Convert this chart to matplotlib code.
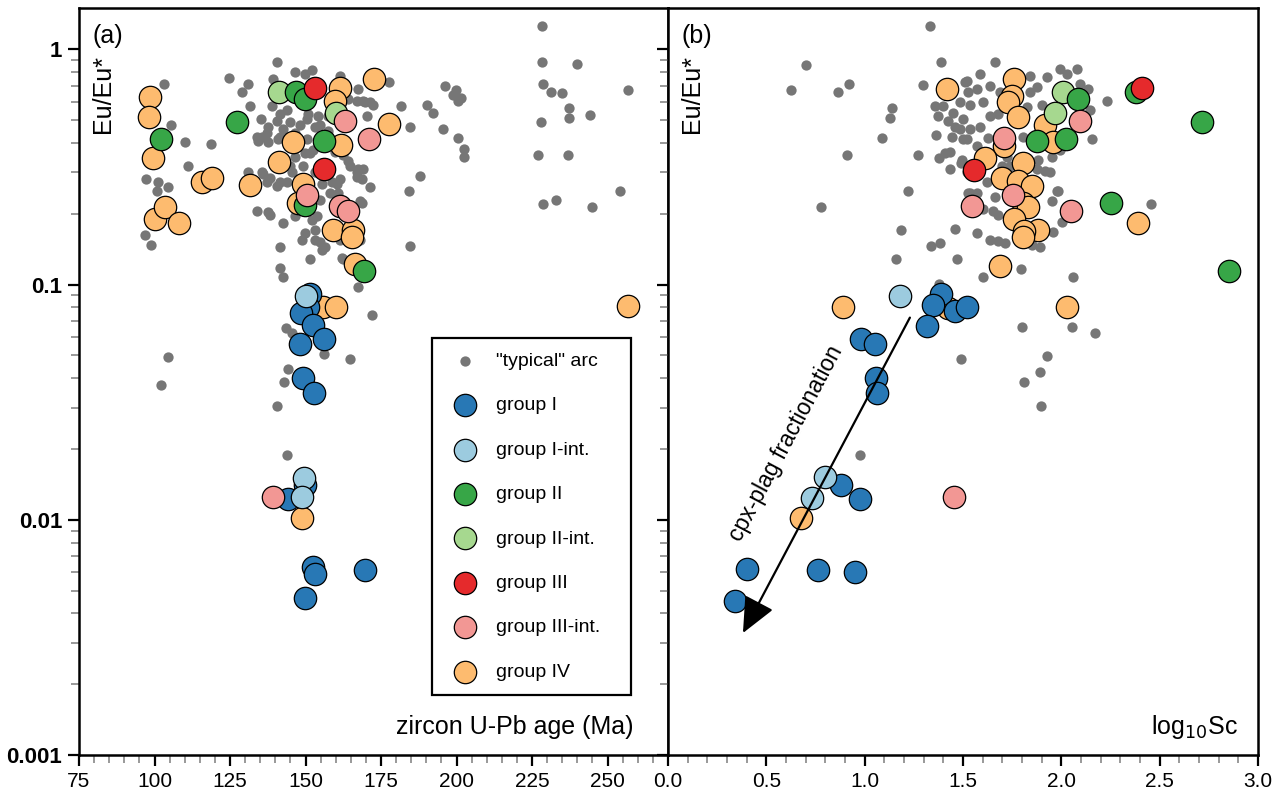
import matplotlib
matplotlib.use("Agg")
import matplotlib.pyplot as plt
from matplotlib.ticker import MultipleLocator, LogLocator, NullFormatter, FormatStrFormatter

plt.rcParams['font.family'] = ['Liberation Sans', 'DejaVu Sans']

# ---- panel (a): zircon U-Pb age vs Eu/Eu* ----
arc_age = [140.5, 124.6, 103.1, 146.5, 152.1, 149.8, 139.2, 130.9, 128.9, 131.6, 138.9, 135.2, 137.6, 140.5,
           105.4, 142.5, 135.6, 134.2, 110.0, 118.6, 137.6, 140.9, 153.1, 157.5, 157.5, 150.8, 151.5, 159.8,
           164.1, 167.4, 168.7, 111.0, 97.1, 101.1, 104.4, 100.7, 130.9, 135.6, 138.2, 140.5, 141.5, 145.5,
           153.1, 155.4, 158.8, 160.8, 133.9, 137.6, 142.5, 146.5, 152.1, 149.8, 153.1, 156.4, 141.5, 151.5,
           162.1, 168.1, 171.4, 96.8, 98.7, 141.5, 142.5, 167.4, 172.0,
           228.4, 228.4, 240.0, 228.7, 231.4, 235.0, 256.6, 237.3, 237.3, 244.3, 228.0, 227.0, 237.0, 228.7,
           233.0, 245.0, 254.2, 177.6, 172.0, 181.6, 190.3, 192.2, 184.6, 195.6, 196.2, 199.9, 198.9, 201.5,
           200.5, 200.5, 202.5, 202.5, 187.9, 184.3, 184.6, 169.0, 172.4, 169.7, 170.4, 168.7,
           161.4, 167.4, 169.0, 171.4, 167.1, 164.1, 141.5, 143.8, 144.8, 148.1, 150.5, 154.1, 154.8, 137.2,
           133.9, 141.5, 146.5, 150.5, 152.5, 149.8, 146.5, 144.8, 149.1, 162.4, 164.7, 167.1, 135.9, 137.2,
           143.8, 157.1, 161.4, 138.2, 148.8, 153.8, 154.8, 155.4, 153.1, 161.4, 162.4, 154.8, 158.1, 160.4,
           168.1, 167.1, 143.5, 145.5, 156.1, 164.7, 104.4, 102.1, 144.2, 142.8, 140.5, 143.8]
arc_eu_a = [0.880, 0.753, 0.710, 0.798, 0.814, 0.783, 0.745, 0.710, 0.656, 0.572, 0.572, 0.504, 0.470, 0.494,
            0.475, 0.457, 0.426, 0.406, 0.402, 0.398, 0.402, 0.414, 0.470, 0.519, 0.448, 0.529, 0.364, 0.368,
            0.334, 0.309, 0.280, 0.318, 0.280, 0.272, 0.259, 0.249, 0.300, 0.300, 0.285, 0.262, 0.274, 0.300,
            0.300, 0.267, 0.274, 0.246, 0.205, 0.203, 0.183, 0.195, 0.189, 0.166, 0.155, 0.145, 0.145, 0.129,
            0.130, 0.155, 0.259, 0.163, 0.148, 0.118, 0.108, 0.098, 0.0746,
            1.253, 0.880, 0.863, 0.710, 0.656, 0.650, 0.669, 0.561, 0.509, 0.524, 0.489, 0.354, 0.357, 0.221,
            0.228, 0.213, 0.249, 0.724, 0.724, 0.572, 0.578, 0.539, 0.466, 0.461, 0.696, 0.669, 0.643, 0.619,
            0.601, 0.422, 0.379, 0.350, 0.291, 0.249, 0.146, 0.309, 0.583, 0.595, 0.519, 0.223,
            0.768, 0.676, 0.601, 0.595, 0.601, 0.613, 0.529, 0.555, 0.489, 0.479, 0.504, 0.519, 0.479, 0.443,
            0.426, 0.426, 0.443, 0.414, 0.375, 0.364, 0.350, 0.318, 0.318, 0.357, 0.318, 0.300, 0.294, 0.272,
            0.272, 0.300, 0.280, 0.197, 0.155, 0.195, 0.152, 0.141, 0.171, 0.155, 0.128, 0.230, 0.246, 0.267,
            0.226, 0.288, 0.0657, 0.0625, 0.0508, 0.0481, 0.0490, 0.0376, 0.0436, 0.0385, 0.0306, 0.0188]

g1_age = [151.5, 150.8, 148.5, 152.5, 156.1, 148.1, 149.1, 152.8, 144.2, 149.8, 152.5, 153.1, 169.7, 149.8]
g1_eu_a = [0.0916, 0.0806, 0.0760, 0.0676, 0.0589, 0.0561, 0.0402, 0.0347, 0.0123, 0.0141, 0.0063, 0.0059,
           0.0061, 0.00466]
g1i_age = [150.1, 149.5, 148.8]
g1i_eu_a = [0.0898, 0.0151, 0.0125]
g2_age = [102.1, 127.3, 146.8, 149.8, 156.1, 149.8, 169.3]
g2_eu_a = [0.418, 0.489, 0.656, 0.613, 0.406, 0.219, 0.114]
g2i_age = [141.2, 160.1]
g2i_eu_a = [0.656, 0.539]
g3_age = [153.1, 156.1]
g3_eu_a = [0.683, 0.309]
g3i_age = [163.1, 171.0, 150.5, 161.4, 164.1, 139.2]
g3i_eu_a = [0.494, 0.418, 0.241, 0.215, 0.205, 0.0125]
g4_age = [98.4, 98.1, 99.4, 100.1, 103.4, 108.0, 115.7, 119.0, 131.6, 141.2, 145.8, 149.1, 147.5, 161.7,
          161.4, 159.8, 172.7, 177.6, 159.1, 165.7, 165.4, 166.4, 155.8, 160.1, 256.9, 148.8]
g4_eu_a = [0.625, 0.514, 0.344, 0.191, 0.213, 0.182, 0.272, 0.283, 0.264, 0.331, 0.402, 0.267, 0.223, 0.394,
           0.683, 0.601, 0.745, 0.484, 0.171, 0.171, 0.160, 0.122, 0.0806, 0.0806, 0.0814, 0.0102]

# ---- panel (b): log10 Sc vs Eu/Eu* ----
arc_sc = [1.332, 0.702, 1.388, 0.625, 0.864, 0.920, 1.296, 1.139, 1.129, 1.088, 0.910, 1.271, 1.220, 0.778,
          1.185, 1.337, 1.383, 1.159, 1.469, 1.357, 1.398, 1.373, 1.363, 1.408, 1.378, 1.434, 1.490, 1.459,
          1.500, 1.510, 1.525, 1.459, 1.662, 1.520, 1.586, 1.637, 1.688, 1.571, 1.484, 1.535, 1.601, 1.449,
          1.424, 1.500, 1.484, 1.444, 1.535, 1.586, 1.637, 1.678, 1.571, 1.627, 1.520, 1.434, 1.495, 1.723,
          1.739, 1.881, 1.876, 1.840, 1.876, 1.840, 1.825, 1.901, 1.993, 2.028, 2.079, 2.095, 2.135, 2.145,
          2.156, 1.952, 1.993, 2.084, 1.805, 1.927, 1.571, 1.535, 1.571, 1.662, 1.601, 1.652, 1.678, 1.637,
          1.678, 1.713, 1.851, 1.891, 1.957, 1.952, 1.983, 1.942, 2.003, 2.059, 1.795, 1.601, 1.698, 1.622,
          2.232, 2.456, 1.525, 1.520, 1.917, 1.978, 1.490, 0.976, 1.378, 1.800, 2.054, 2.171, 1.927, 1.810,
          1.891, 1.896]
arc_eu_b = [1.253, 0.855, 0.880, 0.669, 0.656, 0.710, 0.703, 0.561, 0.509, 0.422, 0.357, 0.357, 0.249, 0.213,
            0.170, 0.146, 0.151, 0.128, 0.129, 0.572, 0.572, 0.519, 0.431, 0.364, 0.347, 0.309, 0.330, 0.470,
            0.414, 0.724, 0.246, 0.173, 0.880, 0.731, 0.783, 0.696, 0.662, 0.676, 0.595, 0.583, 0.595, 0.539,
            0.494, 0.504, 0.457, 0.426, 0.457, 0.470, 0.519, 0.529, 0.387, 0.422, 0.414, 0.368, 0.340, 0.350,
            0.318, 0.340, 0.309, 0.656, 0.689, 0.768, 0.567, 0.583, 0.822, 0.783, 0.822, 0.710, 0.676, 0.555,
            0.414, 0.350, 0.375, 0.466, 0.426, 0.760, 0.165, 0.246, 0.246, 0.235, 0.209, 0.205, 0.198, 0.155,
            0.154, 0.151, 0.148, 0.145, 0.168, 0.226, 0.249, 0.300, 0.185, 0.108, 0.116, 0.108, 0.318, 0.272,
            0.601, 0.221, 0.656, 0.300, 0.303, 0.249, 0.0481, 0.0188, 0.101, 0.0661, 0.0661, 0.0625, 0.0498, 0.0385,
            0.0426, 0.0306]

g1_sc = [1.388, 1.347, 1.459, 1.520, 1.317, 0.981, 1.052, 1.058, 1.063, 0.880, 0.976, 0.402, 0.763, 0.951, 0.341]
g1_eu_b = [0.0916, 0.0823, 0.0769, 0.0806, 0.0670, 0.0589, 0.0561, 0.0402, 0.0347, 0.0141, 0.0123, 0.0062,
           0.0061, 0.0060, 0.0045]
g1i_sc = [1.179, 0.798, 0.732]
g1i_eu_b = [0.0898, 0.0152, 0.0124]
g2_sc = [2.379, 2.084, 1.876, 2.023, 2.252, 2.715, 2.852]
g2_eu_b = [0.656, 0.613, 0.406, 0.418, 0.223, 0.489, 0.114]
g2i_sc = [2.008, 1.968]
g2i_eu_b = [0.656, 0.534]
g3_sc = [2.410, 1.556]
g3_eu_b = [0.683, 0.306]
g3i_sc = [1.708, 2.095, 1.754, 1.546, 2.049, 1.454]
g3i_eu_b = [0.422, 0.494, 0.241, 0.215, 0.205, 0.0125]
g4_sc = [1.418, 1.759, 1.749, 1.729, 1.779, 1.917, 1.957, 1.708, 1.612, 1.805, 1.698, 1.779, 1.851, 1.805,
         1.830, 1.759, 1.881, 1.810, 1.805, 2.389, 1.688, 2.028, 0.890, 0.676, 1.424]
g4_eu_b = [0.676, 0.745, 0.631, 0.595, 0.514, 0.479, 0.402, 0.390, 0.344, 0.330, 0.283, 0.277, 0.262, 0.223,
           0.213, 0.191, 0.171, 0.169, 0.160, 0.182, 0.120, 0.0806, 0.0806, 0.0102, 0.0798]

labels = ['"typical" arc', 'group I', 'group I-int.', 'group II', 'group II-int.',
          'group III', 'group III-int.', 'group IV']
colors = ['#767676', '#2878b5', '#9ccbdf', '#37a647', '#a6d88f', '#e52a2c', '#f29794', '#fdbb6f']

W, H = 1281, 797
fig = plt.figure(figsize=(W / 100, H / 100), dpi=100)
ax1 = fig.add_axes([79 / W, 1 - 755 / H, 589 / W, 747 / H])
ax2 = fig.add_axes([668 / W, 1 - 755 / H, 590 / W, 747 / H])

big = 260
small = 55

def draw(ax, arc, groups):
    ax.scatter(arc[0], arc[1], s=small, color=colors[0], linewidths=0, zorder=2)
    hs = {}
    # group IV goes underneath the others
    order = [7, 1, 2, 4, 3, 6, 5]
    for k, i in enumerate(order):
        x, y = groups[i - 1]
        hs[i] = ax.scatter(x, y, s=big, facecolor=colors[i], edgecolor='black', linewidths=0.9, zorder=3 + k)
    return hs

h1 = draw(ax1, (arc_age, arc_eu_a),
          [(g1_age, g1_eu_a), (g1i_age, g1i_eu_a), (g2_age, g2_eu_a), (g2i_age, g2i_eu_a),
           (g3_age, g3_eu_a), (g3i_age, g3i_eu_a), (g4_age, g4_eu_a)])
draw(ax2, (arc_sc, arc_eu_b),
     [(g1_sc, g1_eu_b), (g1i_sc, g1i_eu_b), (g2_sc, g2_eu_b), (g2i_sc, g2i_eu_b),
      (g3_sc, g3_eu_b), (g3i_sc, g3i_eu_b), (g4_sc, g4_eu_b)])

for ax in (ax1, ax2):
    ax.set_yscale('log')
    ax.set_ylim(0.001, 1.5)
    ax.yaxis.set_major_locator(LogLocator(base=10, numticks=10))
    ax.yaxis.set_minor_locator(LogLocator(base=10, subs=range(2, 10), numticks=10))
    ax.yaxis.set_minor_formatter(NullFormatter())
    for sp in ax.spines.values():
        sp.set_linewidth(1.8)
    ax.tick_params(which='major', direction='out', length=8, width=1.6, color='black', labelsize=15, pad=4)
    ax.tick_params(which='minor', direction='out', length=6, width=1.4, color='#999999')
    ax.tick_params(top=False, right=False, which='both')

ax1.set_xlim(75, 270)
ax1.xaxis.set_major_locator(MultipleLocator(25))
ax1.xaxis.set_minor_locator(MultipleLocator(5))
ax1.set_yticks([0.001, 0.01, 0.1, 1])
ax1.set_yticklabels(['0.001', '0.01', '0.1', '1'], fontweight='bold', fontsize=16)

ax2.set_xlim(0, 3.0)
ax2.xaxis.set_major_locator(MultipleLocator(0.5))
ax2.xaxis.set_minor_locator(MultipleLocator(0.1))
ax2.xaxis.set_major_formatter(FormatStrFormatter('%.1f'))
ax2.set_yticks([0.001, 0.01, 0.1, 1])
ax2.set_yticklabels([])

ax1.text(0.049, 0.962, '(a)', transform=ax1.transAxes, fontsize=18, ha='center', va='center')
ax2.text(0.049, 0.962, '(b)', transform=ax2.transAxes, fontsize=18, ha='center', va='center')
for ax in (ax1, ax2):
    ax.text(0.041, 0.885, 'Eu/Eu*', transform=ax.transAxes, fontsize=18, rotation=90, ha='center', va='center')
ax1.text(0.942, 0.028, 'zircon U-Pb age (Ma)', transform=ax1.transAxes, fontsize=18, ha='right', va='baseline')
ax2.text(0.966, 0.028, r'log$_{10}$Sc', transform=ax2.transAxes, fontsize=18, ha='right', va='baseline')

ax2.annotate('', xy=(0.381, 0.0033), xytext=(1.23, 0.0724),
             arrowprops=dict(arrowstyle='-|>,head_length=1.0,head_width=0.45', color='black', lw=1.6,
                             mutation_scale=22, shrinkA=0, shrinkB=0), zorder=20)
ax2.text(0.60, 0.0211, 'cpx-plag fractionation', fontsize=16.5, rotation=62, rotation_mode='anchor',
         ha='center', va='center', zorder=20)

handles = [ax1.collections[0]] + [h1[i] for i in range(1, 8)]
leg = ax1.legend(handles, labels, loc='upper left', bbox_to_anchor=(0.599, 0.08, 0.338, 0.478),
                 mode='expand', borderaxespad=0,
                 frameon=True, fancybox=False, edgecolor='black', framealpha=1, fontsize=14,
                 labelspacing=1.38, handletextpad=0.6, borderpad=0.72, scatterpoints=1)
leg.get_frame().set_linewidth(1.6)
leg.set_zorder(30)

fig.savefig('out.png', dpi=100)
